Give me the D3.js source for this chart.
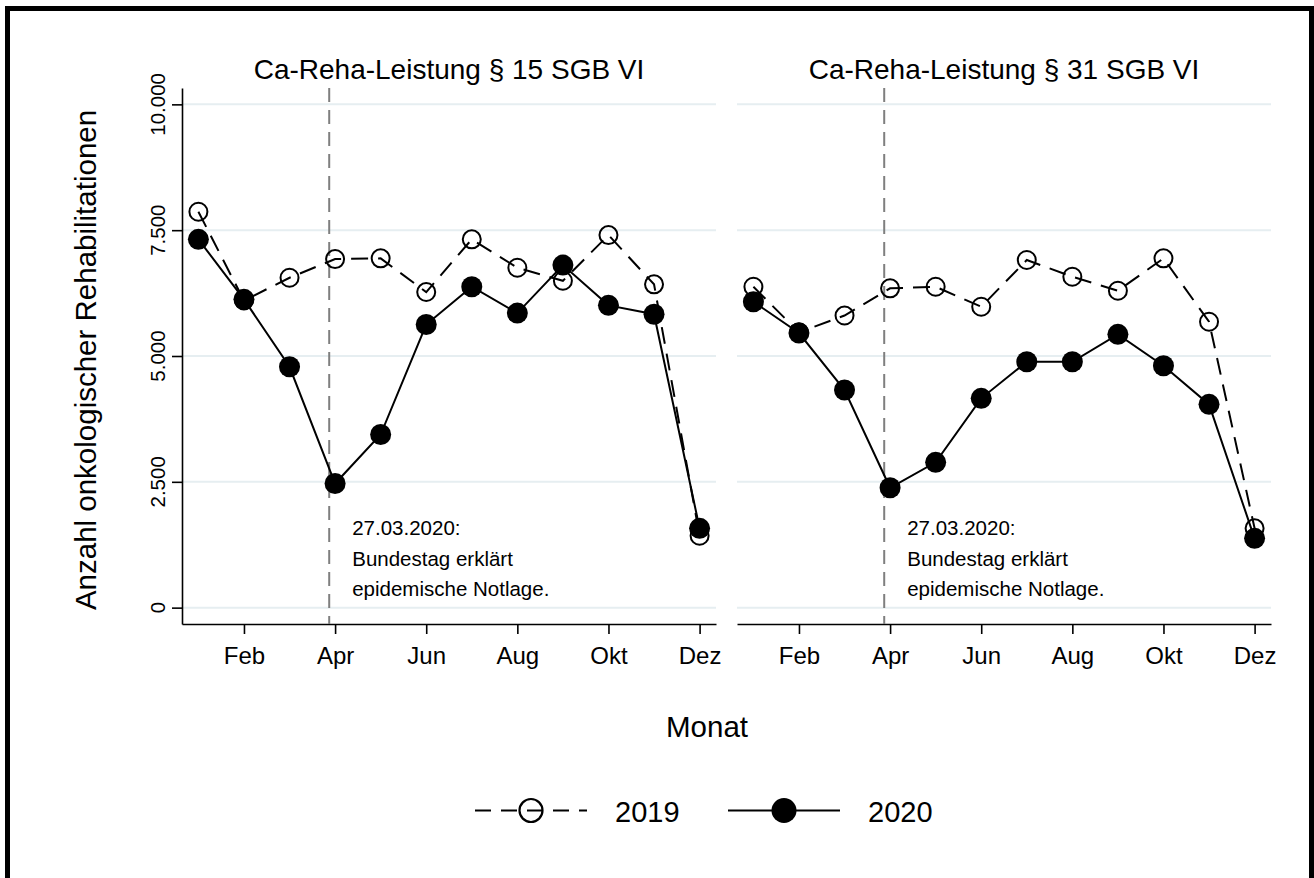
<!DOCTYPE html>
<html>
<head>
<meta charset="utf-8">
<script src="https://cdn.jsdelivr.net/npm/d3@7"></script>
<style>
  html, body { margin: 0; padding: 0; background: #fff; }
  svg { display: block; font-family: "Liberation Sans", Arial, sans-serif; }
</style>
</head>
<body>
<svg id="chart" width="1314" height="878"></svg>
<script>
// Monthly counts of oncological rehabilitations, 2019 vs 2020
const months = [1, 2, 3, 4, 5, 6, 7, 8, 9, 10, 11, 12];
const tickMonths = [2, 4, 6, 8, 10, 12];
const tickLabels = ["Feb", "Apr", "Jun", "Aug", "Okt", "Dez"];
const yTicks = [0, 2500, 5000, 7500, 10000];

const s15_2019 = [7866, 6102, 6555, 6926, 6940, 6271, 7318, 6754, 6495, 7403, 6424, 1429];
const s15_2020 = [7318, 6126, 4786, 2466, 3440, 5625, 6376, 5853, 6807, 6006, 5830, 1576];
const s31_2019 = [6376, 5470, 5804, 6344, 6376, 5979, 6907, 6575, 6297, 6940, 5681, 1576];
const s31_2020 = [6078, 5456, 4324, 2382, 2887, 4159, 4886, 4886, 5430, 4806, 4039, 1377];

const panelTitles = ["Ca-Reha-Leistung § 15 SGB VI", "Ca-Reha-Leistung § 31 SGB VI"];
const seriesNames = ["2019", "2020"];
// 27 March 2020 on the month axis
const eventMonth = 3 + 27 / 31;
const eventNote = ["27.03.2020:", "Bundestag erklärt", "epidemische Notlage."];

const panels = [
  { title: panelTitles[0], y2019: s15_2019, y2020: s15_2020, x0: 182, x1: 716, yAxis: true },
  { title: panelTitles[1], y2019: s31_2019, y2020: s31_2020, x0: 737, x1: 1271, yAxis: false }
];

const svg = d3.select("#chart");
svg.append("rect").attr("width", 1314).attr("height", 878).attr("fill", "#fff");

const de = d3.formatLocale({ decimal: ",", thousands: ".", grouping: [3], currency: ["", " €"] });
const fmt = de.format(",d");

const y = d3.scaleLinear().domain([-325, 10325]).range([624, 88]);
const gridColor = "#e6eef1";

panels.forEach(p => {
  const x = d3.scaleLinear().domain([0.64, 12.36]).range([p.x0, p.x1]);
  const g = svg.append("g");

  // horizontal grid
  g.selectAll("line.grid").data(yTicks).join("line")
    .attr("class", "grid")
    .attr("x1", p.x0).attr("x2", p.x1)
    .attr("y1", d => y(d)).attr("y2", d => y(d))
    .attr("stroke", gridColor).attr("stroke-width", 2);

  // y axis (left panel only)
  if (p.yAxis) {
    const ya = g.append("g").attr("transform", `translate(${p.x0},0)`)
      .call(d3.axisLeft(y).tickValues(yTicks).tickSize(10).tickSizeOuter(0).tickFormat(""));
    ya.select(".domain").attr("stroke", "#000").attr("stroke-width", 1.6);
    ya.selectAll(".tick line").attr("stroke", "#000").attr("stroke-width", 1.6);
    g.selectAll("text.ytick").data(yTicks).join("text")
      .attr("class", "ytick")
      .attr("transform", d => `translate(${p.x0 - 17.5},${y(d)}) rotate(-90)`)
      .attr("text-anchor", "middle")
      .attr("font-size", 20.5)
      .attr("fill", "#000")
      .text(d => fmt(d));
  }

  // x axis
  const xa = g.append("g").attr("transform", `translate(0,624)`)
    .call(d3.axisBottom(x).tickValues(tickMonths).tickSize(10).tickSizeOuter(0).tickPadding(13)
      .tickFormat((d, i) => tickLabels[i]));
  xa.select(".domain").attr("stroke", "#000").attr("stroke-width", 1.6);
  xa.selectAll(".tick line").attr("stroke", "#000").attr("stroke-width", 1.6);
  xa.selectAll(".tick text").attr("font-size", 24).attr("fill", "#000")
    .attr("font-family", "'Liberation Sans', Arial, sans-serif");

  // event line
  g.append("line")
    .attr("x1", x(eventMonth)).attr("x2", x(eventMonth))
    .attr("y1", 88).attr("y2", 624)
    .attr("stroke", "#7f7f7f").attr("stroke-width", 2)
    .attr("stroke-dasharray", "14,8");

  // event note
  const note = g.append("text").attr("font-size", 20.5).attr("fill", "#000");
  eventNote.forEach((t, i) => {
    note.append("tspan").attr("x", x(eventMonth) + 23).attr("y", 535 + i * 30.5).text(t);
  });

  // panel title
  g.append("text")
    .attr("x", (p.x0 + p.x1) / 2).attr("y", 79)
    .attr("text-anchor", "middle").attr("font-size", 28).attr("fill", "#000")
    .text(p.title);

  const line = d3.line().x((d, i) => x(months[i])).y(d => y(d));

  // 2019: dashed line, hollow markers
  g.append("path").datum(p.y2019)
    .attr("d", line).attr("fill", "none")
    .attr("stroke", "#000").attr("stroke-width", 2).attr("stroke-dasharray", "17,10");
  g.selectAll("circle.s2019").data(p.y2019).join("circle")
    .attr("class", "s2019")
    .attr("cx", (d, i) => x(months[i])).attr("cy", d => y(d))
    .attr("r", 9).attr("fill", "none").attr("stroke", "#000").attr("stroke-width", 2);

  // 2020: solid line, filled markers
  g.append("path").datum(p.y2020)
    .attr("d", line).attr("fill", "none")
    .attr("stroke", "#000").attr("stroke-width", 2);
  g.selectAll("circle.s2020").data(p.y2020).join("circle")
    .attr("class", "s2020")
    .attr("cx", (d, i) => x(months[i])).attr("cy", d => y(d))
    .attr("r", 10.5).attr("fill", "#000");
});

// axis titles
svg.append("text")
  .attr("transform", "translate(96,360) rotate(-90)")
  .attr("text-anchor", "middle").attr("font-size", 29.5).attr("fill", "#000")
  .text("Anzahl onkologischer Rehabilitationen");
svg.append("text")
  .attr("x", 707).attr("y", 737)
  .attr("text-anchor", "middle").attr("font-size", 29.5).attr("fill", "#000")
  .text("Monat");

// legend
const leg = svg.append("g");
leg.append("line").attr("x1", 475).attr("x2", 587).attr("y1", 810.5).attr("y2", 810.5)
  .attr("stroke", "#000").attr("stroke-width", 2).attr("stroke-dasharray", "16,10");
leg.append("circle").attr("cx", 531).attr("cy", 810.5).attr("r", 11.5)
  .attr("fill", "none").attr("stroke", "#000").attr("stroke-width", 2.2);
leg.append("text").attr("x", 615).attr("y", 821.5).attr("font-size", 29).attr("fill", "#000").text(seriesNames[0]);
leg.append("line").attr("x1", 728).attr("x2", 840).attr("y1", 810.5).attr("y2", 810.5)
  .attr("stroke", "#000").attr("stroke-width", 2);
leg.append("circle").attr("cx", 784).attr("cy", 810.5).attr("r", 12.5).attr("fill", "#000");
leg.append("text").attr("x", 868).attr("y", 821.5).attr("font-size", 29).attr("fill", "#000").text(seriesNames[1]);

// outer frame
svg.append("rect").attr("x", 7.5).attr("y", 8.5).attr("width", 1304).attr("height", 900)
  .attr("fill", "none").attr("stroke", "#000").attr("stroke-width", 5);
</script>
</body>
</html>
